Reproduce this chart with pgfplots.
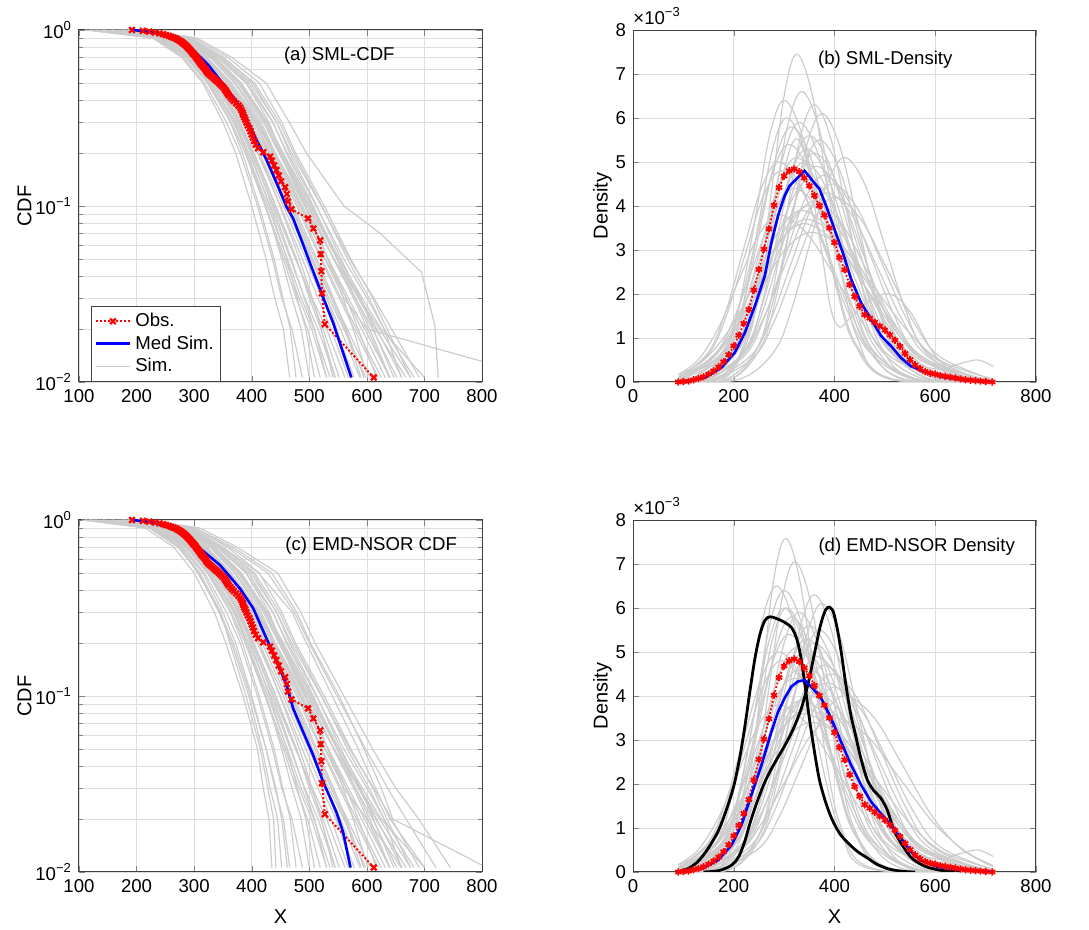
\documentclass[border=0pt]{standalone}
\usepackage{pgfplots}
\pgfplotsset{compat=1.18}
\usepackage{pgfplotstable}
\usepackage{fontspec}
\setmainfont{Liberation Sans}
\definecolor{simgray}{rgb}{0.80,0.80,0.80}
\definecolor{gridgray}{rgb}{0.87,0.87,0.87}
\definecolor{axgray}{rgb}{0.25,0.25,0.25}

\pgfplotstableread{
y c1 c2 c3 c4 c5 c6 c7 c8 c9 c10 c11 c12 c13 c14 c15 c16 c17 c18 c19 c20 c21 c22 c23 c24 c25 c26 c27 c28 c29 c30 c31 c32 c33 c34 c35 c36 c37 c38 c39 c40
1 110 126 142 150 166 174 190 193 196 199 202 205 210 212 118 158 194 201 130 207 182 120 135 145 160 170 178 185 188 195 198 200 203 206 208 140 175 185 200 155
0.9 228 236 241 247 251 257 262 268 272 279 283 289 295 300 233 249 269 282 239 290 262 231 238 243 250 255 259 264 266 270 275 278 285 287 292 240 258 265 281 247
0.7 278 287 290 297 300 307 310 320 323 333 336 346 351 358 285 298 320 336 291 344 315 281 289 294 302 305 309 314 317 322 328 330 340 342 349 293 310 318 334 300
0.5 315 324 325 334 335 343 344 362 361 380 381 398 402 413 323 334 359 382 329 390 358 318 326 330 338 341 348 353 357 365 372 376 390 394 405 331 352 360 378 337
0.3 350 364 363 378 376 391 390 410 406 427 424 443 443 452 363 377 406 427 373 430 410 356 368 371 383 387 395 401 404 413 420 423 436 437 448 370 398 408 426 380
0.2 372 389 384 403 398 418 413 438 429 453 448 469 466 476 389 401 431 452 400 451 441 380 392 395 410 413 422 428 433 440 447 450 462 460 473 392 425 436 455 404
0.1 400 423 413 441 431 459 449 484 469 503 492 521 513 526 424 436 473 498 438 494 492 410 428 433 450 455 464 470 478 488 497 500 512 507 522 425 468 481 505 442
0.05 425 455 439 477 461 499 483 528 505 549 533 570 555 572 458 469 513 542 476 532 543 436 462 467 488 494 503 510 520 533 543 548 560 549 566 452 506 522 552 478
0.03 440 477 454 503 479 530 505 564 531 588 564 612 589 610 482 491 542 577 505 559 587 452 486 492 515 522 534 540 552 568 580 585 600 580 604 470 538 555 592 500
0.02 455 497 467 524 494 554 521 591 548 617 585 643 611 635 504 509 564 601 530 576 622 470 508 515 538 546 560 566 578 596 610 615 630 605 630 486 562 582 625 520
0.0106 466 519 477 552 509 588 541 632 573 661 617 691 647 676 530 530 595 639 562 602 676 488 536 545 568 578 598 606 620 640 652 668 682 640 660 500 590 625 700 545
}\simcdf

\pgfplotsset{
  mySim/.style={color=simgray, line width=0.6pt, no markers, forget plot},
  mySimD/.style={color=simgray, line width=0.6pt, no markers, forget plot, smooth, tension=0.6},
  myObs/.style={red, densely dotted, line width=1pt, mark=x, mark size=2pt, mark options={solid, line width=1.1pt}, forget plot},
  myObsD/.style={red, densely dotted, line width=0.9pt, mark=asterisk, mark size=1.8pt, mark options={solid, line width=0.9pt}, forget plot},
  myMed/.style={blue, line width=1.3pt, no markers, forget plot},
}
\tikzset{myTtl/.style={font=\fontsize{9.3}{11}\selectfont, inner sep=0pt}}

\newcommand{\simcdfplots}{%
  \pgfplotsinvokeforeach{1,...,40}{\addplot[mySim] table[x=c##1, y=y]{\simcdf};}%
}
\newcommand{\obscdf}{%
\addplot[myObs] coordinates {(192,1.0) (211,0.989) (222,0.979) (232,0.968) (240,0.957) (246,0.947) (251,0.936) (256,0.926) (260,0.915) (264,0.904) (268,0.894) (271,0.883) (274,0.872) (277,0.862) (279,0.851) (281,0.840) (283,0.830) (285,0.819) (287,0.809) (289,0.798) (290,0.787) (292,0.777) (294,0.766) (295,0.755) (297,0.745) (298,0.734) (300,0.723) (302,0.713) (303,0.702) (305,0.691) (306,0.681) (308,0.670) (309,0.660) (311,0.649) (312,0.638) (314,0.628) (316,0.617) (318,0.606) (320,0.596) (321,0.585) (323,0.574) (325,0.564) (328,0.553) (331,0.543) (334,0.532) (337,0.521) (340,0.511) (343,0.500) (346,0.489) (349,0.479) (352,0.468) (354,0.457) (356,0.447) (358,0.436) (360,0.426) (363,0.415) (366,0.404) (369,0.394) (373,0.383) (377,0.372) (380,0.362) (382,0.351) (384,0.340) (385,0.330) (387,0.319) (389,0.309) (391,0.298) (393,0.287) (396,0.277) (398,0.266) (400,0.255) (402,0.245) (404,0.234) (407,0.223) (411,0.213) (420,0.202) (432,0.191) (435,0.181) (439,0.170) (443,0.160) (447,0.149) (451,0.138) (458,0.128) (461,0.117) (463,0.106) (469,0.0957) (498,0.0851) (507,0.0745) (519,0.0638) (520,0.0532) (521,0.0426) (522,0.0319) (527,0.0213) (612,0.0106)};%
}
\newcommand{\obsdens}{%
\addplot[myObsD] coordinates {(90,0.00) (100,0.01) (110,0.02) (120,0.05) (130,0.08) (140,0.12) (150,0.18) (160,0.25) (170,0.34) (180,0.46) (190,0.62) (200,0.82) (210,1.06) (220,1.33) (230,1.65) (240,2.09) (250,2.56) (260,3.02) (270,3.48) (280,4.02) (290,4.42) (300,4.68) (310,4.80) (320,4.84) (330,4.78) (340,4.64) (350,4.46) (360,4.24) (370,4.01) (380,3.79) (390,3.50) (400,3.17) (410,2.83) (420,2.55) (430,2.21) (440,1.94) (450,1.72) (460,1.53) (470,1.45) (480,1.36) (490,1.27) (500,1.18) (510,1.07) (520,0.95) (530,0.81) (540,0.65) (550,0.51) (560,0.39) (570,0.30) (580,0.24) (590,0.20) (600,0.18) (610,0.15) (620,0.13) (630,0.11) (640,0.09) (650,0.07) (660,0.05) (670,0.04) (680,0.03) (690,0.02) (700,0.01) (713,0.00)};%
}
\newcommand{\simdensplots}{%
\addplot[mySimD] coordinates {(90,0) (135,0.07) (190,0.86) (217,2.08) (245,3.88) (272,5.64) (300,6.4) (335,5.64) (370,3.88) (405,2.08) (440,0.86) (510,0.07) (715,0)};
\addplot[mySimD] coordinates {(90,0) (195,0.07) (255,0.82) (285,1.98) (315,3.70) (345,5.38) (375,6.1) (410,5.38) (445,3.70) (480,1.98) (515,0.82) (585,0.07) (715,0)};
\addplot[mySimD] coordinates {(90,0) (150,0.06) (210,0.80) (240,1.92) (270,3.58) (300,5.20) (330,5.9) (367,5.20) (405,3.58) (442,1.92) (480,0.80) (555,0.06) (715,0)};
\addplot[mySimD] coordinates {(90,0) (164,0.06) (226,0.76) (257,1.82) (288,3.40) (319,4.94) (350,5.6) (390,4.94) (430,3.40) (470,1.82) (510,0.76) (590,0.06) (715,0)};
\addplot[mySimD] coordinates {(90,0.02) (115,0.06) (180,0.73) (212,1.76) (245,3.28) (277,4.76) (310,5.4) (351,4.76) (393,3.28) (434,1.76) (476,0.73) (559,0.06) (715,0)};
\addplot[mySimD] coordinates {(90,0) (150,0.06) (220,0.70) (255,1.69) (290,3.16) (325,4.59) (360,5.2) (402,4.59) (444,3.16) (486,1.69) (528,0.70) (612,0.06) (715,0)};
\addplot[mySimD] coordinates {(90,0.02) (124,0.06) (196,0.68) (232,1.63) (268,3.04) (304,4.41) (340,5.0) (384,4.41) (428,3.04) (472,1.63) (516,0.68) (604,0.06) (715,0)};
\addplot[mySimD] coordinates {(90,0) (146,0.05) (224,0.63) (263,1.53) (302,2.85) (341,4.15) (380,4.7) (426,4.15) (472,2.85) (518,1.53) (564,0.63) (656,0.05) (715,0.01)};
\addplot[mySimD] coordinates {(90,0.05) (160,0.59) (200,1.43) (240,2.67) (280,3.88) (320,4.4) (370,3.88) (420,2.67) (470,1.43) (520,0.59) (620,0.05) (715,0)};
\addplot[mySimD] coordinates {(90,0.04) (184,0.55) (228,1.33) (272,2.49) (316,3.62) (360,4.1) (413,3.62) (466,2.49) (519,1.33) (572,0.55) (678,0.05) (715,0.02)};
\addplot[mySimD] coordinates {(90,0.03) (155,0.50) (202,1.20) (250,2.25) (297,3.26) (345,3.7) (405,3.26) (465,2.25) (525,1.20) (585,0.50) (705,0.04) (715,0.03)};
\addplot[mySimD] coordinates {(90,0.12) (145,0.46) (197,1.10) (250,2.06) (302,3.00) (355,3.4) (420,3.00) (485,2.06) (550,1.10) (615,0.46) (715,0.06)};
\addplot[mySimD] coordinates {(90,0) (155,0.05) (235,0.61) (275,1.46) (315,2.73) (355,3.97) (395,4.5) (444,3.97) (493,2.73) (542,1.46) (591,0.61) (689,0.05) (715,0.02)};
\addplot[mySimD] coordinates {(90,0.08) (150,0.68) (185,1.63) (220,3.04) (255,4.41) (290,5.0) (335,4.41) (380,3.04) (425,1.63) (470,0.68) (560,0.06) (715,0)};
\addplot[mySimD] coordinates {(90,0.17) (130,0.51) (170,1.24) (210,2.31) (250,3.35) (290,3.8) (347,3.35) (405,2.31) (462,1.24) (520,0.51) (635,0.04) (715,0.01)};
\addplot[mySimD] coordinates {(90,0) (125,0.05) (200,0.62) (237,1.49) (275,2.79) (312,4.06) (350,4.6) (395,4.06) (440,2.79) (485,1.49) (530,0.62) (600,0.3) (650,0.42) (685,0.5) (715,0.35)};
\addplot[mySimD] coordinates {(90,0) (129,0.06) (191,0.78) (222,1.89) (253,3.52) (284,5.12) (315,5.8) (352,5.12) (390,3.52) (427,1.89) (465,0.78) (540,0.06) (715,0)};
\addplot[mySimD] coordinates {(90,0) (141,0.06) (209,0.72) (243,1.72) (277,3.22) (311,4.67) (345,5.3) (386,4.67) (427,3.22) (468,1.72) (509,0.72) (591,0.06) (715,0)};
\addplot[mySimD] coordinates {(90,0) (149,0.05) (221,0.66) (257,1.59) (293,2.97) (329,4.32) (365,4.9) (410,4.32) (455,2.97) (500,1.59) (545,0.66) (635,0.05) (715,0)};
\addplot[mySimD] coordinates {(90,0.04) (174,0.62) (213,1.50) (252,2.79) (291,4.06) (330,4.6) (377,4.06) (425,2.79) (472,1.50) (520,0.62) (615,0.05) (715,0)};
\addplot[mySimD] coordinates {(90,0) (130,0.05) (215,0.58) (257,1.40) (300,2.61) (342,3.79) (385,4.3) (435,3.79) (485,2.61) (535,1.40) (585,0.58) (685,0.05) (715,0.02)};
\addplot[mySimD] coordinates {(90,0.06) (170,0.54) (215,1.30) (260,2.43) (305,3.53) (350,4.0) (405,3.53) (460,2.43) (515,1.30) (570,0.54) (680,0.04) (715,0.02)};
\addplot[mySimD] coordinates {(90,0) (140,0.07) (195,0.81) (222,1.95) (250,3.64) (277,5.29) (305,6.0) (340,5.29) (375,3.64) (410,1.95) (445,0.81) (515,0.07) (715,0)};
\addplot[mySimD] coordinates {(90,0) (184,0.06) (246,0.74) (277,1.79) (308,3.34) (339,4.85) (370,5.5) (409,4.85) (448,3.34) (487,1.79) (526,0.74) (604,0.06) (715,0)};
\addplot[mySimD] coordinates {(90,0.16) (140,0.49) (190,1.17) (240,2.19) (290,3.18) (340,3.6) (400,3.18) (460,2.19) (520,1.17) (580,0.49) (700,0.04) (715,0.03)};
\addplot[mySimD] coordinates {(90,0) (160,0.05) (240,0.57) (280,1.37) (320,2.55) (360,3.70) (400,4.2) (452,3.70) (505,2.55) (557,1.37) (610,0.57) (715,0.05)};
\addplot[mySimD] coordinates {(90,0.01) (115,0.06) (185,0.69) (220,1.66) (255,3.10) (290,4.50) (325,5.1) (367,4.50) (410,3.10) (452,1.66) (495,0.69) (580,0.06) (715,0)};
\addplot[mySimD] coordinates {(90,0.08) (151,0.65) (187,1.56) (223,2.91) (259,4.23) (295,4.8) (341,4.23) (387,2.91) (433,1.56) (479,0.65) (571,0.05) (715,0)};
\addplot[mySimD] coordinates {(90,0) (195,0.07) (250,0.85) (277,2.05) (305,3.82) (332,5.56) (360,6.3) (392,5.56) (425,3.82) (457,2.05) (490,0.85) (555,0.07) (715,0)};
\addplot[mySimD] coordinates {(90,0.1) (155,0.53) (200,1.27) (245,2.37) (290,3.44) (335,3.9) (392,3.44) (450,2.37) (507,1.27) (565,0.53) (680,0.04) (715,0.02)};
}

\begin{document}
\begin{tikzpicture}
\path[use as bounding box] (0,0) rectangle (544.5pt,465pt);

% (a)
\begin{axis}[ymode=log, xmin=100, xmax=800, ymin=0.01, ymax=1,
    xtick={100,200,...,800}, ytick={0.01,0.1,1},
    yticklabels={10\textsuperscript{−2},10\textsuperscript{−1},10\textsuperscript{0}},
    minor ytick={0.02,0.03,0.04,0.05,0.06,0.07,0.08,0.09,0.2,0.3,0.4,0.5,0.6,0.7,0.8,0.9},
    yminorgrids, ylabel={CDF}, ylabel style={yshift=-5pt},
    scale only axis, width=201.5pt, height=176pt, anchor=south west, at={(39.5pt,274pt)},
    font=\fontsize{9.3}{11}\selectfont,
    tick align=inside, axis line style={draw=axgray, line width=0.5pt},
    major tick length=3pt, minor tick length=1.8pt,
    xmajorgrids, ymajorgrids,
    major grid style={draw=gridgray, line width=0.35pt},
    minor grid style={draw=gridgray, line width=0.3pt},
    label style={font=\fontsize{10}{12}\selectfont},
    legend style={at={(rel axis cs:0.03,0)}, anchor=south west, draw=axgray, line width=0.5pt,
      font=\fontsize{9.3}{11}\selectfont, inner sep=1.5pt, row sep=-1pt},
    legend cell align=left,
    /pgf/number format/assume math mode=true]
\addlegendimage{red, densely dotted, line width=1pt, mark=x, mark size=2pt, mark options={solid, line width=1.1pt}}
\addlegendentry{Obs.}
\addlegendimage{blue, line width=1.3pt}
\addlegendentry{Med Sim.}
\addlegendimage{simgray, line width=0.6pt}
\addlegendentry{Sim.}
\simcdfplots
\addplot[mySim] coordinates {(215,1) (305,0.9) (365,0.7) (425,0.5) (465,0.3) (495,0.2) (560,0.1) (623,0.07) (695,0.042) (718,0.021) (724,0.0106)};
\addplot[mySim] coordinates {(200,1) (276,0.9) (328,0.7) (370,0.5) (416,0.3) (441,0.2) (486,0.1) (527,0.05) (560,0.03) (600,0.02) (900,0.0106)};
\obscdf
\addplot[myMed] coordinates {(195,1.0) (230,0.97) (263,0.896) (285,0.82) (304,0.737) (325,0.63) (344.7,0.521) (362,0.44) (379.4,0.367) (402.6,0.259) (425.7,0.183) (445.9,0.129) (460.4,0.099) (472,0.085) (486.4,0.064) (503.8,0.045) (521.2,0.032) (541.4,0.0217) (553,0.0167) (573,0.0106)};
\node[myTtl] at (rel axis cs:0.646,0.926) {(a) SML-CDF};
\end{axis}

% (b)
\begin{axis}[name=axb, xmin=0, xmax=800, ymin=0, ymax=8,
    xtick={0,200,...,800}, ytick={0,1,...,8}, ylabel={Density}, ylabel style={yshift=-5pt},
    scale only axis, width=201.5pt, height=176pt, anchor=south west, at={(316.5pt,274pt)},
    font=\fontsize{9.3}{11}\selectfont,
    tick align=inside, axis line style={draw=axgray, line width=0.5pt},
    major tick length=3pt,
    xmajorgrids, ymajorgrids,
    major grid style={draw=gridgray, line width=0.35pt},
    label style={font=\fontsize{10}{12}\selectfont},
    /pgf/number format/assume math mode=true]
\simdensplots
\addplot[mySimD] coordinates {(90,0) (181,0.08) (229,1.01) (253,2.42) (277,4.52) (301,6.57) (325,7.45) (355,6.57) (385,4.52) (415,2.42) (445,1.01) (505,0.08) (715,0)};
\addplot[mySimD] coordinates {(90,0) (170,0.07) (225,0.89) (252,2.15) (280,4.01) (307,5.82) (335,6.6) (368,5.82) (401,4.01) (434,2.15) (467,0.89) (533,0.07) (715,0)};
\addplot[mySimD] coordinates {(90,0) (160,0.05) (200,0.35) (250,1.9) (290,4.3) (320,5.5) (345,5.0) (370,3.3) (392,1.7) (410,1.25) (430,1.45) (470,1.85) (510,2.0) (550,1.6) (600,0.6) (650,0.15) (715,0.02)};
\addplot[mySimD] coordinates {(90,0) (210,0.06) (280,0.69) (315,1.66) (350,3.10) (385,4.50) (420,5.1) (460,4.50) (500,3.10) (540,1.66) (580,0.69) (660,0.06) (715,0)};
\obsdens
\addplot[myMed] coordinates {(90,0) (143,0.1) (176,0.33) (202,0.67) (222,1.12) (242,1.73) (261.6,2.41) (274.8,3.17) (288,3.78) (301,4.23) (311,4.46) (324,4.61) (340.7,4.80) (353.9,4.61) (370.4,4.38) (383.5,4.00) (400,3.47) (416.5,2.94) (433,2.34) (452.7,1.80) (472.5,1.43) (492.3,1.05) (512,0.82) (531.8,0.55) (551.6,0.36) (584.5,0.21) (617.5,0.11) (657,0.04) (713,0)};
\node[myTtl] at (rel axis cs:0.626,0.915) {(b) SML-Density};
\end{axis}
\node[anchor=south west, inner sep=0pt, font=\fontsize{9.3}{11}\selectfont] at ([yshift=2.5pt]axb.north west) {×10\textsuperscript{−3}};

% (c)
\begin{axis}[ymode=log, xmin=100, xmax=800, ymin=0.01, ymax=1,
    xtick={100,200,...,800}, ytick={0.01,0.1,1},
    yticklabels={10\textsuperscript{−2},10\textsuperscript{−1},10\textsuperscript{0}},
    minor ytick={0.02,0.03,0.04,0.05,0.06,0.07,0.08,0.09,0.2,0.3,0.4,0.5,0.6,0.7,0.8,0.9},
    yminorgrids, ylabel={CDF}, xlabel={X}, ylabel style={yshift=-5pt}, xlabel style={yshift=-2pt},
    scale only axis, width=201.5pt, height=176pt, anchor=south west, at={(39.5pt,29pt)},
    font=\fontsize{9.3}{11}\selectfont,
    tick align=inside, axis line style={draw=axgray, line width=0.5pt},
    major tick length=3pt, minor tick length=1.8pt,
    xmajorgrids, ymajorgrids,
    major grid style={draw=gridgray, line width=0.35pt},
    minor grid style={draw=gridgray, line width=0.3pt},
    label style={font=\fontsize{10}{12}\selectfont},
    /pgf/number format/assume math mode=true]
\simcdfplots
\addplot[mySim] coordinates {(105,1) (215,0.9) (265,0.7) (300,0.5) (335,0.3) (355,0.2) (385,0.1) (410,0.05) (420,0.03) (430,0.02) (435,0.0106)};
\addplot[mySim] coordinates {(220,1) (310,0.9) (375,0.7) (445,0.5) (485,0.3) (510,0.2) (560,0.1) (610,0.05) (650,0.03) (690,0.02) (745,0.0106)};
\addplot[mySim] coordinates {(112,1) (222,0.9) (272,0.7) (308,0.5) (343,0.3) (365,0.2) (395,0.1) (418,0.05) (432,0.03) (445,0.02) (452,0.0106)};
\addplot[mySim] coordinates {(215,1) (302,0.9) (368,0.7) (435,0.5) (478,0.3) (502,0.2) (552,0.1) (595,0.05) (625,0.03) (645,0.02) (808,0.0106)};
\addplot[mySim] coordinates {(125,1) (230,0.9) (276,0.7) (306,0.5) (345,0.3) (368,0.2) (398,0.1) (425,0.05) (442,0.03) (452,0.02) (462,0.0106)};
\addplot[mySim] coordinates {(200,1) (285,0.9) (350,0.7) (412,0.5) (470,0.3) (495,0.2) (540,0.1) (585,0.05) (615,0.03) (640,0.02) (700,0.0106)};
\addplot[mySim] coordinates {(200,1) (276,0.9) (328,0.7) (370,0.5) (416,0.3) (441,0.2) (486,0.1) (527,0.05) (560,0.03) (600,0.02) (660,0.0106)};
\addplot[mySim] coordinates {(118,1) (225,0.9) (275,0.7) (310,0.5) (346,0.3) (362,0.2) (390,0.1) (415,0.05) (428,0.03) (438,0.02) (442,0.0106)};
\addplot[mySim] coordinates {(210,1) (298,0.9) (362,0.7) (428,0.5) (474,0.3) (500,0.2) (548,0.1) (598,0.05) (636,0.03) (668,0.02) (720,0.0106)};
\obscdf
\addplot[myMed] coordinates {(194,1.0) (230,0.965) (263.7,0.89) (290,0.78) (310,0.69) (344.7,0.555) (379.4,0.409) (402.6,0.315) (425.7,0.212) (448.8,0.143) (460.4,0.115) (472,0.085) (489.3,0.0625) (506.7,0.0461) (524,0.0325) (547.2,0.0219) (558.7,0.0169) (571.5,0.0106)};
\node[myTtl] at (rel axis cs:0.725,0.926) {(c) EMD-NSOR CDF};
\end{axis}

% (d)
\begin{axis}[name=axd, xmin=0, xmax=800, ymin=0, ymax=8,
    xtick={0,200,...,800}, ytick={0,1,...,8}, ylabel={Density}, xlabel={X},
    ylabel style={yshift=-5pt}, xlabel style={yshift=-2pt},
    scale only axis, width=201.5pt, height=176pt, anchor=south west, at={(316.5pt,29pt)},
    font=\fontsize{9.3}{11}\selectfont,
    tick align=inside, axis line style={draw=axgray, line width=0.5pt},
    major tick length=3pt,
    xmajorgrids, ymajorgrids,
    major grid style={draw=gridgray, line width=0.35pt},
    label style={font=\fontsize{10}{12}\selectfont},
    /pgf/number format/assume math mode=true]
\simdensplots
\addplot[mySimD] coordinates {(90,0) (168,0.08) (213,1.02) (236,2.46) (258,4.60) (280,6.69) (303,7.58) (330,6.69) (358,4.60) (385,2.46) (413,1.02) (468,0.08) (715,0)};
\addplot[mySimD] coordinates {(90,0) (171,0.08) (221,0.95) (246,2.29) (271,4.28) (296,6.22) (321,7.05) (351,6.22) (381,4.28) (411,2.29) (441,0.95) (501,0.08) (715,0)};
\addplot[mySimD] coordinates {(90,0.01) (120,0.07) (175,0.88) (202,2.11) (230,3.95) (257,5.73) (285,6.5) (317,5.73) (350,3.95) (382,2.11) (415,0.88) (480,0.07) (715,0)};
\addplot[mySimD] coordinates {(90,0.02) (115,0.04) (210,0.47) (257,1.14) (305,2.12) (352,3.09) (400,3.5) (465,3.09) (530,2.12) (595,1.14) (660,0.47) (715,0.15)};
\addplot[mySimD] coordinates {(90,0) (126,0.07) (184,0.81) (213,1.95) (242,3.64) (271,5.29) (300,6.0) (336,5.29) (372,3.64) (408,1.95) (444,0.81) (516,0.07) (715,0)};
\addplot[mySimD] coordinates {(90,0) (165,0.04) (250,0.54) (292,1.3) (335,2.43) (377,3.53) (420,4.0) (477,3.53) (535,2.43) (592,1.3) (650,0.54) (715,0.12)};
\addplot[black, line width=1.4pt, smooth, tension=0.5, forget plot] coordinates {(90,0) (110,0.08) (130,0.25) (150,0.55) (170,0.95) (185,1.4) (200,1.95) (212,2.6) (222,3.3) (232,4.1) (242,4.85) (252,5.4) (262,5.72) (272,5.8) (285,5.76) (300,5.68) (315,5.55) (325,5.3) (333,4.9) (342,4.2) (350,3.5) (360,2.75) (370,2.1) (382,1.6) (395,1.2) (410,0.88) (425,0.68) (445,0.47) (465,0.32) (485,0.17) (510,0.06) (540,0.01) (560,0)};
\addplot[black, line width=1.4pt, smooth, tension=0.5, forget plot] coordinates {(140,0) (170,0.03) (195,0.15) (210,0.35) (222,0.7) (232,1.1) (245,1.55) (260,2.0) (275,2.35) (290,2.65) (305,2.95) (320,3.3) (335,3.75) (348,4.3) (360,4.95) (372,5.6) (382,5.95) (390,6.02) (398,5.9) (406,5.5) (414,4.95) (422,4.3) (432,3.6) (442,3.1) (452,2.6) (465,2.1) (478,1.85) (492,1.68) (505,1.4) (518,0.95) (535,0.6) (555,0.3) (580,0.13) (610,0.04) (650,0)};
\obsdens
\addplot[myMed] coordinates {(90,0) (136,0.08) (169,0.27) (195.7,0.61) (215.5,1.07) (235,1.75) (255,2.43) (274.8,3.19) (288,3.64) (301,3.95) (314,4.21) (327.5,4.33) (340.7,4.36) (354,4.21) (373.7,3.95) (393.4,3.49) (413,2.96) (433,2.43) (452.7,1.98) (472.5,1.60) (492,1.33) (512,1.07) (531.8,0.77) (551.6,0.46) (571,0.27) (604,0.12) (650,0.05) (713,0)};
\node[myTtl] at (rel axis cs:0.704,0.923) {(d) EMD-NSOR Density};
\end{axis}
\node[anchor=south west, inner sep=0pt, font=\fontsize{9.3}{11}\selectfont] at ([yshift=2.5pt]axd.north west) {×10\textsuperscript{−3}};
\end{tikzpicture}
\end{document}
